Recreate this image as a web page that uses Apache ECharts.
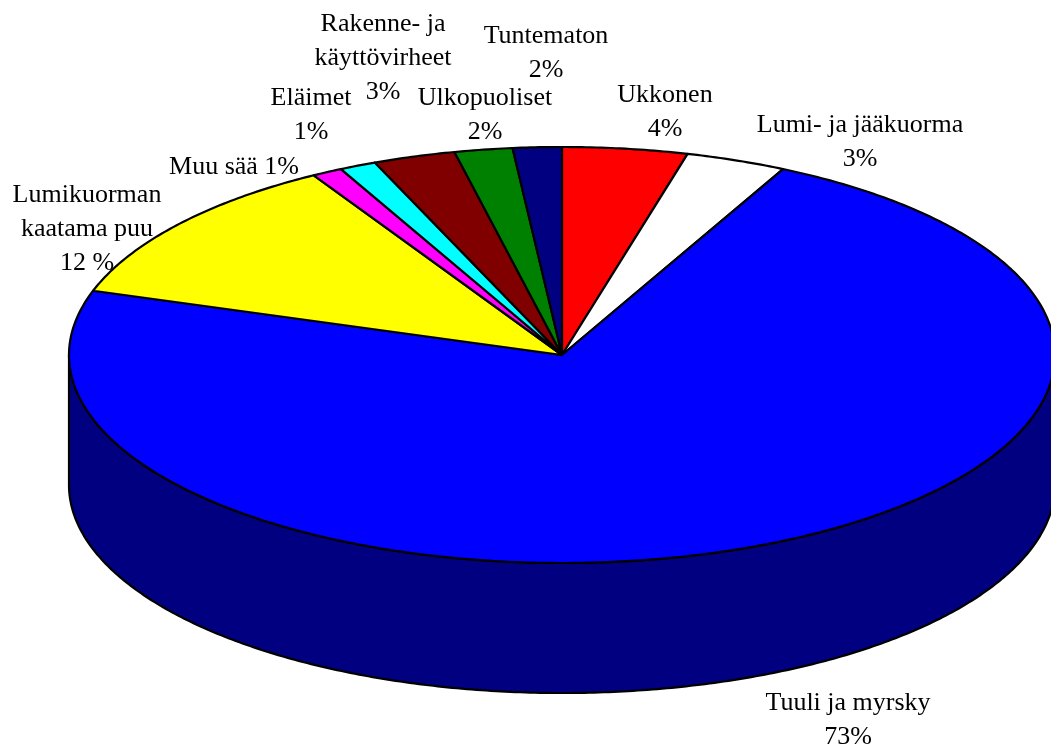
<!DOCTYPE html>
<html>
<head>
<meta charset="utf-8">
<script src="https://cdn.jsdelivr.net/npm/echarts@6/dist/echarts.min.js"></script>
<style>
  html, body { margin: 0; padding: 0; background: #fff; }
  #chart { width: 1051px; height: 749px; }
</style>
</head>
<body>
<div id="chart"></div>
<script>
// slices clockwise from 12 o'clock
var categories = ['Ukkonen', 'Lumi- ja jääkuorma', 'Tuuli ja myrsky', 'Lumikuorman\nkaatama puu',
                  'Muu sää', 'Eläimet', 'Rakenne- ja\nkäyttövirheet', 'Ulkopuoliset', 'Tuntematon'];
var values = [4.1, 3.3, 72.6, 11.6, 1.0, 1.2, 2.7, 1.9, 1.6];
var labelFormats = ['{b}\n{d}%', '{b}\n{d}%', '{b}\n{d}%', '{b}\n{d} %', '{b} {d}%',
                    '{b}\n{d}%', '{b}\n{d}%', '{b}\n{d}%', '{b}\n{d}%'];

// styling / layout
var topColors = ['#ff0000', '#ffffff', '#0000ff', '#ffff00', '#ff00ff', '#00ffff', '#800000', '#008000', '#000080'];
var sideColors = ['#800000', '#808080', '#000080', '#808000', '#800080', '#008080', '#400000', '#004000', '#000040'];
var labelPos = [[665, 112], [860, 142], [848, 720], [87, 229], [234, 167],
                [311, 115], [383, 58], [485, 115], [546, 53]];
var cx = 562, cy = 355, rx = 493, ry = 208, depth = 130;

var total = values.reduce(function (a, b) { return a + b; }, 0);
var starts = [];
var acc = 0;
values.forEach(function (v) { starts.push(acc); acc += v; });

function pt(t, dy) {
    return [cx + rx * Math.sin(t), cy - ry * Math.cos(t) + (dy || 0)];
}
function arc(t0, t1, dy) {
    var pts = [];
    var n = Math.max(4, Math.ceil((t1 - t0) / 0.01));
    for (var i = 0; i <= n; i++) {
        pts.push(pt(t0 + (t1 - t0) * i / n, dy));
    }
    return pts;
}

var chart = echarts.init(document.getElementById('chart'));

chart.setOption({
    backgroundColor: '#ffffff',
    animation: false,
    series: [{
        type: 'custom',
        coordinateSystem: 'none',
        data: values.map(function (v, i) { return {name: categories[i], value: v}; }),
        renderItem: function (params, api) {
            var i = params.dataIndex;
            var v = api.value(0);
            var t0 = starts[i] / total * Math.PI * 2;
            var t1 = t0 + v / total * Math.PI * 2;
            var children = [];

            // front wall (only the part facing the viewer)
            var a = Math.max(t0, Math.PI / 2), b = Math.min(t1, Math.PI * 1.5);
            if (b > a) {
                var up = arc(a, b, 0);
                var down = arc(a, b, depth).reverse();
                children.push({
                    type: 'polygon', z2: 1,
                    shape: {points: up.concat(down)},
                    style: {fill: sideColors[i], stroke: '#000', lineWidth: 2.2, lineJoin: 'round'}
                });
            }

            // top face
            children.push({
                type: 'polygon', z2: 10,
                shape: {points: [[cx, cy]].concat(arc(t0, t1, 0))},
                style: {fill: topColors[i], stroke: '#000', lineWidth: 2.2, lineJoin: 'round'}
            });

            var txt = labelFormats[i].replace('{b}', categories[i]).replace('{d}', Math.round(v / total * 100));
            children.push({
                type: 'text', z2: 20,
                x: labelPos[i][0], y: labelPos[i][1],
                style: {
                    text: txt, align: 'center', verticalAlign: 'middle',
                    fontFamily: '"Liberation Serif", "Times New Roman", serif',
                    fontSize: 26, lineHeight: 34, fill: '#000'
                }
            });
            return {type: 'group', children: children};
        }
    }]
});
</script>
</body>
</html>
